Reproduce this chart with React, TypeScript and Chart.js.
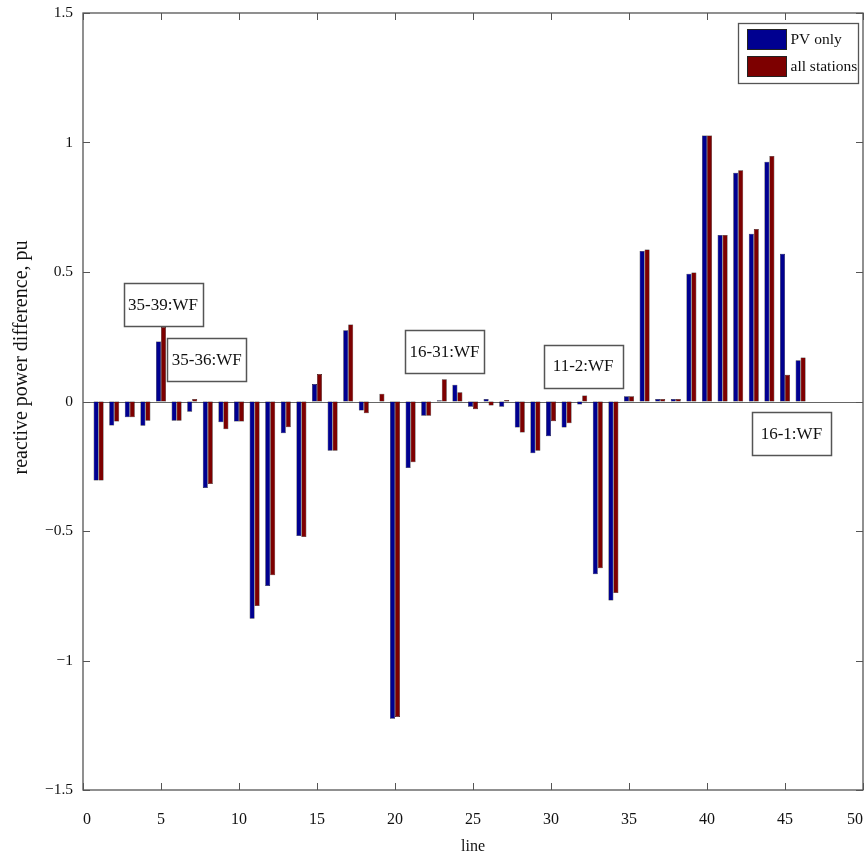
import React, { useEffect, useRef } from 'react';
import { Chart, registerables } from 'chart.js';

Chart.register(...registerables);

const FONT = '"Liberation Serif", "Times New Roman", Times, serif';

// line numbers (x values)
const lines = [
  1, 2, 3, 4, 5, 6, 7, 8, 9, 10, 11, 12, 13, 14, 15, 16, 17, 18, 19, 20, 21, 22, 23,
  24, 25, 26, 27, 28, 29, 30, 31, 32, 33, 34, 35, 36, 37, 38, 39, 40, 41, 42, 43, 44, 45, 46,
];

// reactive power difference, PV only
const pvOnly = [
  -0.305, -0.093, -0.061, -0.094, 0.232, -0.074, -0.04, -0.334, -0.08, -0.077,
  -0.839, -0.712, -0.123, -0.519, 0.068, -0.19, 0.275, -0.035, 0.0, -1.225,
  -0.257, -0.055, 0.005, 0.065, -0.02, 0.01, -0.02, -0.1, -0.2, -0.134,
  -0.1, -0.012, -0.667, -0.768, 0.02, 0.581, 0.01, 0.01, 0.493, 1.027,
  0.643, 0.883, 0.648, 0.926, 0.57, 0.159,
];

// reactive power difference, all stations
const allStations = [
  -0.305, -0.077, -0.061, -0.074, 0.288, -0.074, 0.01, -0.319, -0.107, -0.077,
  -0.79, -0.671, -0.099, -0.523, 0.106, -0.19, 0.297, -0.045, 0.03, -1.218,
  -0.235, -0.055, 0.086, 0.036, -0.03, -0.015, 0.006, -0.12, -0.19, -0.076,
  -0.084, 0.023, -0.644, -0.739, 0.02, 0.587, 0.01, 0.01, 0.498, 1.027,
  0.643, 0.893, 0.666, 0.948, 0.103, 0.17,
];

const seriesLabels = ['PV only', 'all stations'];
const xTicks = [0, 5, 10, 15, 20, 25, 30, 35, 40, 45, 50];
const yTicks = [-1.5, -1, -0.5, 0, 0.5, 1, 1.5];

// text-box annotations (text, and the data point at the centre of each box)
const annotationTexts = ['35-39:WF', '35-36:WF', '16-31:WF', '11-2:WF', '16-1:WF'];
const annotationX = [5.13, 7.93, 23.17, 32.06, 45.41];
const annotationY = [0.373, 0.162, 0.193, 0.137, -0.125];

const fmt = (v: number) => (v < 0 ? '\u2212' + String(Math.abs(v)) : String(v));

export default function App() {
  const ref = useRef<HTMLCanvasElement | null>(null);

  useEffect(() => {
    if (!ref.current) return;
    const AXIS = '#555555';

    const decorations = {
      id: 'decorations',
      beforeDatasetsDraw(chart: any) {
        const { ctx, chartArea: a, scales } = chart;
        const y0 = scales.y.getPixelForValue(0);
        ctx.save();
        ctx.strokeStyle = '#666666';
        ctx.lineWidth = 1;
        ctx.beginPath();
        ctx.moveTo(a.left, Math.round(y0) + 0.5);
        ctx.lineTo(a.right, Math.round(y0) + 0.5);
        ctx.stroke();
        ctx.restore();
      },
      afterDatasetsDraw(chart: any) {
        const { ctx, chartArea: a, scales } = chart;
        const xs = scales.x;
        const ys = scales.y;
        ctx.save();
        // frame
        ctx.strokeStyle = AXIS;
        ctx.lineWidth = 1.3;
        ctx.strokeRect(a.left, a.top, a.right - a.left, a.bottom - a.top);
        // inside ticks
        const tl = 7;
        ctx.lineWidth = 1;
        ctx.beginPath();
        xTicks.forEach((v) => {
          const px = Math.round(xs.getPixelForValue(v)) + 0.5;
          ctx.moveTo(px, a.bottom);
          ctx.lineTo(px, a.bottom - tl);
          ctx.moveTo(px, a.top);
          ctx.lineTo(px, a.top + tl);
        });
        yTicks.forEach((v) => {
          const py = Math.round(ys.getPixelForValue(v)) + 0.5;
          ctx.moveTo(a.left, py);
          ctx.lineTo(a.left + tl, py);
          ctx.moveTo(a.right, py);
          ctx.lineTo(a.right - tl, py);
        });
        ctx.stroke();

        // annotation boxes
        const bw = 79;
        const bh = 43;
        ctx.font = '17px ' + FONT;
        ctx.textAlign = 'center';
        ctx.textBaseline = 'middle';
        annotationTexts.forEach((t, i) => {
          const cx = xs.getPixelForValue(annotationX[i]);
          const cy = ys.getPixelForValue(annotationY[i]);
          const x = Math.round(cx - bw / 2) + 0.5;
          const y = Math.round(cy - bh / 2) + 0.5;
          ctx.fillStyle = '#ffffff';
          ctx.fillRect(x, y, bw, bh);
          ctx.strokeStyle = AXIS;
          ctx.lineWidth = 1.5;
          ctx.strokeRect(x, y, bw, bh);
          ctx.fillStyle = '#111111';
          ctx.fillText(t, cx, cy + 1);
        });

        // legend
        const lw = 120;
        const lh = 60;
        const lx = Math.round(a.right - 5 - lw) + 0.5;
        const ly = Math.round(a.top + 10) + 0.5;
        ctx.fillStyle = '#ffffff';
        ctx.fillRect(lx, ly, lw, lh);
        ctx.strokeStyle = AXIS;
        ctx.lineWidth = 1.3;
        ctx.strokeRect(lx, ly, lw, lh);
        ctx.font = '15.5px ' + FONT;
        ctx.textAlign = 'left';
        chart.data.datasets.forEach((ds: any, i: number) => {
          const sy = ly + 6 + i * 27;
          ctx.fillStyle = ds.backgroundColor;
          ctx.fillRect(lx + 9, sy, 39, 20);
          ctx.strokeStyle = '#222222';
          ctx.lineWidth = 1;
          ctx.strokeRect(lx + 9, sy, 39, 20);
          ctx.fillStyle = '#111111';
          ctx.fillText(ds.label, lx + 52, sy + 10);
        });

        // y axis title
        ctx.save();
        ctx.translate(22, ys.getPixelForValue(0.17));
        ctx.rotate(-Math.PI / 2);
        ctx.textAlign = 'center';
        ctx.textBaseline = 'middle';
        ctx.font = '20px ' + FONT;
        ctx.fillStyle = '#111111';
        ctx.fillText('reactive power difference, pu', 0, 0);
        ctx.restore();

        ctx.restore();
      },
    };

    const barStyle = {
      borderColor: '#000000',
      borderWidth: 0.5,
      borderSkipped: false,
      categoryPercentage: 0.64,
      barPercentage: 1,
      inflateAmount: 0,
    };

    const chart = new Chart(ref.current, {
      type: 'bar',
      data: {
        datasets: [
          {
            label: seriesLabels[0],
            data: lines.map((x, i) => ({ x, y: pvOnly[i] })),
            backgroundColor: '#000090',
            ...barStyle,
          },
          {
            label: seriesLabels[1],
            data: lines.map((x, i) => ({ x, y: allStations[i] })),
            backgroundColor: '#7d0000',
            ...barStyle,
          },
        ],
      } as any,
      options: {
        animation: false,
        responsive: true,
        maintainAspectRatio: false,
        layout: { padding: { top: 13, right: 1, left: 0, bottom: 0 } },
        plugins: {
          legend: { display: false },
          tooltip: { enabled: false },
        },
        scales: {
          x: {
            type: 'linear',
            min: 0,
            max: 50,
            offset: false,
            grid: { display: false, drawTicks: false, offset: false },
            border: { display: false },
            afterBuildTicks: (s: any) => {
              s.ticks = xTicks.map((v) => ({ value: v }));
            },
            afterFit: (s: any) => {
              s.height = 69;
              s.paddingLeft = 0;
              s.paddingRight = 0;
            },
            ticks: {
              padding: 20,
              align: 'inner',
              autoSkip: false,
              maxRotation: 0,
              color: '#111111',
              font: { family: FONT, size: 16 },
              callback: (v: any) => fmt(Number(v)),
            },
            title: {
              display: true,
              text: 'line',
              color: '#111111',
              font: { family: FONT, size: 16 },
              padding: { top: 0, bottom: 3 },
            },
          },
          y: {
            type: 'linear',
            min: -1.5,
            max: 1.5,
            grid: { display: false, drawTicks: false },
            border: { display: false },
            afterBuildTicks: (s: any) => {
              s.ticks = yTicks.map((v) => ({ value: v }));
            },
            afterFit: (s: any) => {
              s.width = 83;
              s.paddingTop = 0;
              s.paddingBottom = 0;
            },
            ticks: {
              padding: 10,
              color: '#111111',
              font: { family: FONT, size: 15.5 },
              callback: (v: any) => fmt(Number(v)),
            },
          },
        },
      } as any,
      plugins: [decorations],
    });

    return () => chart.destroy();
  }, []);

  return (
    <div style={{ position: 'absolute', left: 0, top: 0, width: 864, height: 859 }}>
      <canvas ref={ref} />
    </div>
  );
}
